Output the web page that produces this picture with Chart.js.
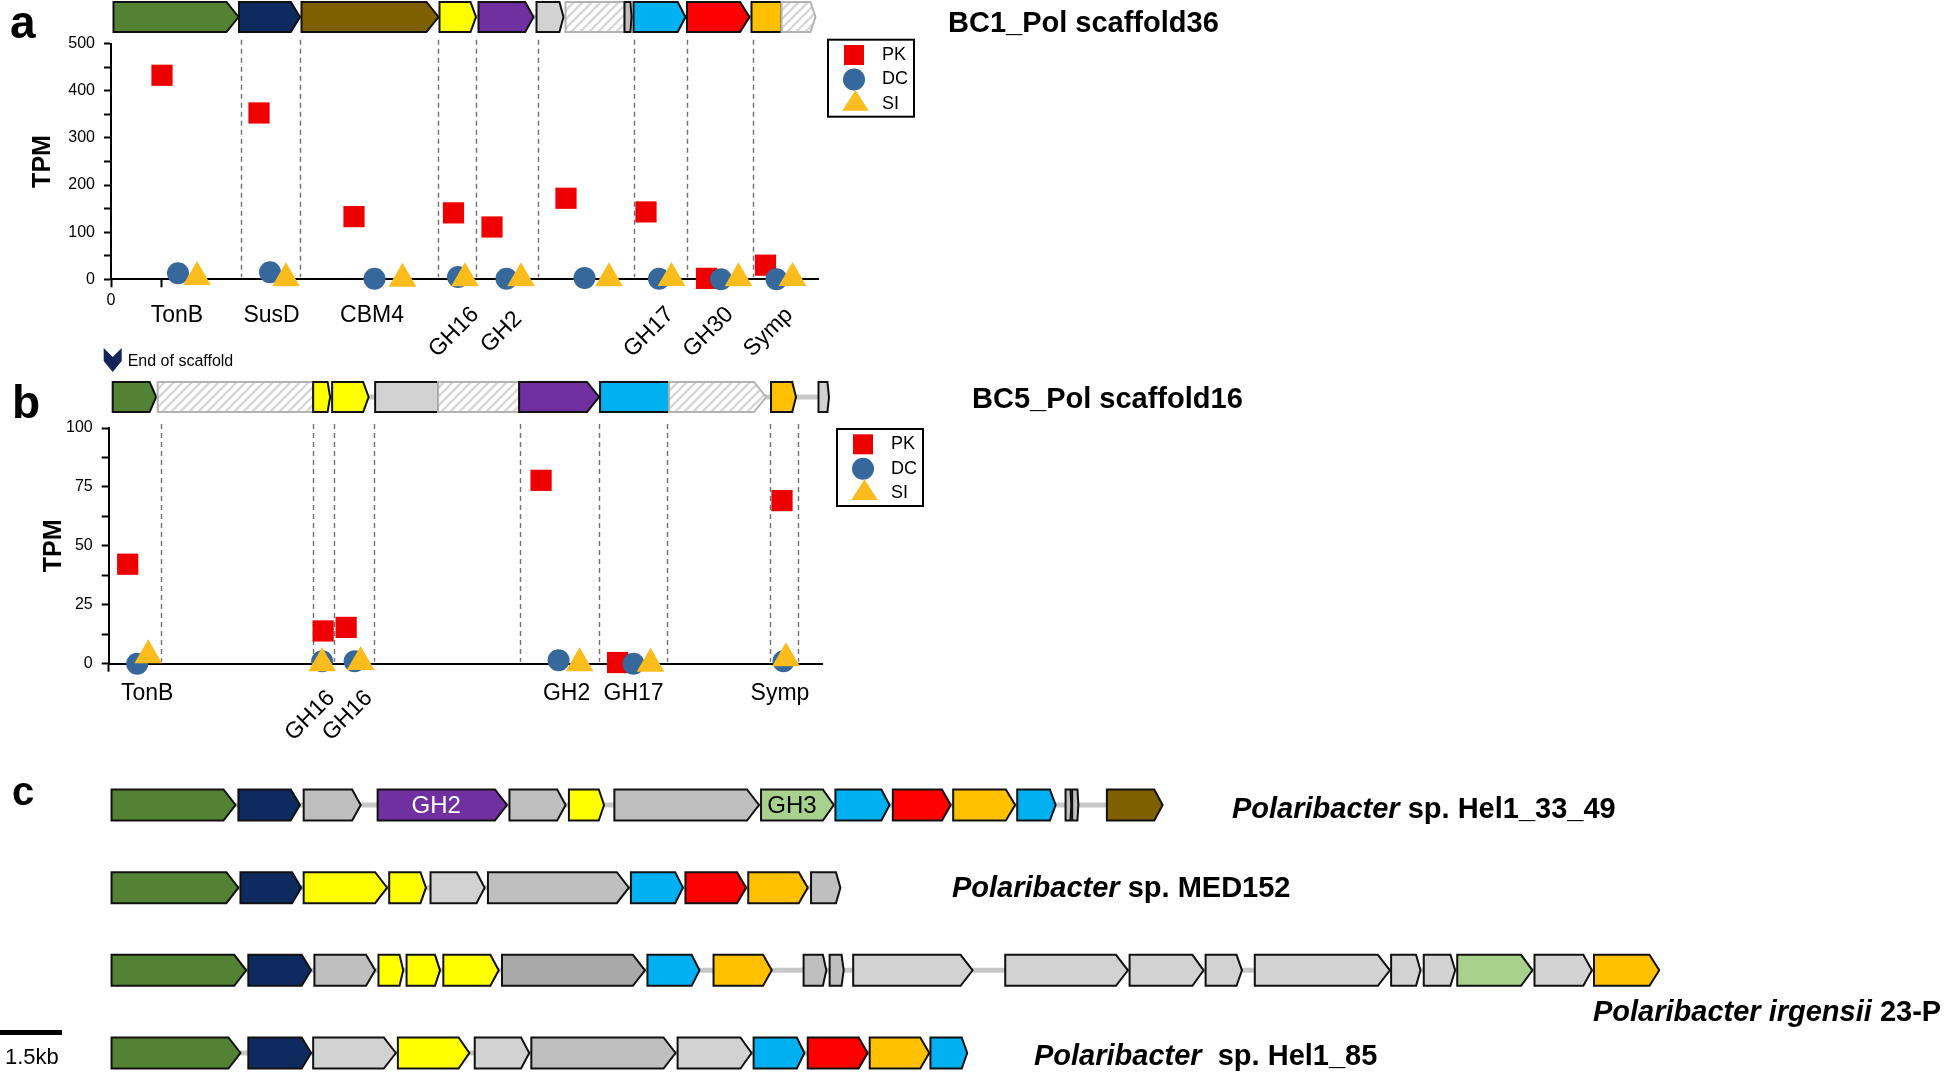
<!DOCTYPE html>
<html lang="en">
<head>
<meta charset="utf-8">
<title>Polaribacter PUL expression</title>
<script src="https://cdn.jsdelivr.net/npm/chart.js@4.4.1/dist/chart.umd.min.js"></script>
<style>
    html, body { margin: 0; padding: 0; background: #ffffff; }
    body { position: relative; width: 1946px; height: 1075px; overflow: hidden; }
    canvas { position: absolute; left: 0; }
    #pulA { top: 0; }
    #pulB { top: 340px; }
    #pulC { top: 740px; }
</style>
</head>
<body>
<canvas id="pulA" width="1946" height="372"></canvas>
<canvas id="pulB" width="1946" height="410"></canvas>
<canvas id="pulC" width="1946" height="335"></canvas>
<script>
if (document.readyState == 'loading') {
    document.addEventListener('DOMContentLoaded', ready);
} else {
    ready();
}

const FONT = '"Liberation Sans", Arial, Helvetica, sans-serif';
const seriesNames = ['PK', 'DC', 'SI'];

// ---- panel a : BC1_Pol scaffold36 (x in map units) ----
const titleA = 'BC1_Pol scaffold36';
const genesA = ['TonB', 'SusD', 'CBM4', 'GH16', 'GH2', '', 'GH17', 'GH30', 'Symp'];
const genePosA = [1.32, 3.21, 5.22, 6.86, 7.81, 9.5, 10.76, 11.95, 13.15];
const pkXA = [1.02, 2.96, 4.86, 6.85, 7.62, 9.10, 10.70, 11.91, 13.09];
const pkA = [433, 353, 133, 141, 111, 172, 143, 2, 30];
const dcXA = [1.34, 3.18, 5.27, 6.94, 7.91, 9.47, 10.96, 12.20, 13.31];
const dcA = [13, 15, 1, 5, 1, 3, 1, 0, 0];
const siXA = [1.72, 3.50, 5.83, 7.08, 8.20, 9.96, 11.21, 12.55, 13.63];
const siA = [5, 2, 1, 2, 2, 2, 3, 2, 3];
const yTicksA = { max: 500, step: 50, label: 100 };
const xMaxA = 14.14;
const mapStartA = [0.05, 2.56, 3.81, 6.57, 7.35, 8.51, 9.09, 10.27, 10.45, 11.52, 12.81, 13.41];
const mapEndA = [2.55, 3.78, 6.55, 7.30, 8.45, 9.05, 10.27, 10.41, 11.49, 12.77, 13.41, 14.09];
const mapTypeA = ['tonb', 'susd', 'cbm', 'gh16', 'gh2', 'hypoA', 'frag', 'hypoB', 'gh17', 'gh30', 'symp', 'frag'];
const cutsA = [2.60, 3.78, 6.55, 7.31, 8.53, 10.45, 11.53, 12.83];

// ---- panel b : BC5_Pol scaffold16 ----
const titleB = 'BC5_Pol scaffold16';
const genesB = ['TonB', 'GH16', 'GH16', 'GH2', 'GH17', 'Symp'];
const genePosB = [0.77, 4.03, 4.78, 9.16, 10.50, 13.43];
const pkXB = [0.38, 4.29, 4.75, 8.65, 10.18, 13.47];
const pkB = [42.2, 13.9, 15.4, 77.8, 0.5, 69.2];
const dcXB = [0.57, 4.27, 4.92, 9.00, 10.50, 13.50];
const dcB = [0, 1, 1, 1.5, 0, 1];
const siXB = [0.79, 4.27, 5.04, 9.42, 10.84, 13.55];
const siB = [3.6, 0.2, 0.7, 0.2, 0, 2.3];
const yTicksB = { max: 100, step: 12.5, label: 25 };
const xMaxB = 14.27;
const mapStartB = [0.08, 0.98, 4.09, 4.47, 5.33, 6.59, 8.21, 9.83, 11.21, 13.25, 14.20];
const mapEndB = [0.95, 4.09, 4.43, 5.20, 6.59, 8.21, 9.81, 11.21, 13.15, 13.75, 14.41];
const mapTypeB = ['tonb', 'frag', 'gh16', 'gh16', 'hypoA', 'frag', 'gh2', 'gh17', 'frag', 'symp', 'hypoA'];
const cutsB = [1.04, 4.09, 4.50, 5.30, 8.22, 9.80, 11.16, 13.23, 13.79];

// ---- panel c : related Polaribacter PULs (kb) ----
const genomeIds = ['Hel1_33_49', 'MED152', 'irgensii', 'Hel1_85'];
const genomeItalic = ['Polaribacter', 'Polaribacter', 'Polaribacter irgensii', 'Polaribacter'];
const genomeRest = [' sp. Hel1_33_49', ' sp. MED152', ' 23-P', '  sp. Hel1_85'];
const scaleBarKb = 1.5;
const kbMin = -2.70;
const kbMax = 44.40;

const hel3349Start = [0, 3.07, 4.65, 6.44, 9.63, 11.07, 12.17, 15.72, 17.52, 18.91, 20.37, 21.92, 23.09, 23.25, 24.09];
const hel3349End = [3.00, 4.56, 6.03, 9.57, 10.99, 11.92, 15.67, 17.48, 18.83, 20.31, 21.87, 22.85, 23.23, 23.40, 25.44];
const hel3349Type = ['tonb', 'susd', 'hypoB', 'gh2', 'hypoB', 'gh16', 'hypoB', 'gh3', 'gh17', 'gh30', 'symp', 'gh17', 'hypoB', 'hypoB', 'cbm'];
const hel3349Tag = ['', '', '', 'GH2', '', '', '', 'GH3', '', '', '', '', '', '', ''];

const med152Start = [0, 3.12, 4.65, 6.72, 7.72, 9.11, 12.57, 13.89, 15.41, 16.93];
const med152End = [3.07, 4.59, 6.67, 7.61, 9.03, 12.52, 13.83, 15.36, 16.85, 17.64];
const med152Type = ['tonb', 'susd', 'gh16', 'gh16', 'hypoA', 'hypoB', 'gh17', 'gh30', 'symp', 'hypoB'];

const irgStart = [0, 3.31, 4.91, 6.46, 7.14, 8.03, 9.45, 12.97, 14.57, 16.75, 17.38, 17.95, 21.63, 24.64, 26.48, 27.67, 30.97, 31.76, 32.57, 34.44, 35.88];
const irgEnd = [3.26, 4.83, 6.38, 7.06, 7.95, 9.37, 12.91, 14.23, 15.98, 17.30, 17.72, 20.84, 24.60, 26.43, 27.36, 30.94, 31.68, 32.52, 34.39, 35.83, 37.46];
const irgType = ['tonb', 'susd', 'hypoB', 'gh16', 'gh16', 'gh16', 'hypoC', 'gh17', 'symp', 'hypoB', 'hypoB', 'hypoA', 'hypoA', 'hypoA', 'hypoA', 'hypoA', 'hypoA', 'hypoA', 'gh3', 'hypoA', 'symp'];

const hel85Start = [0, 3.31, 4.88, 6.93, 8.79, 10.16, 13.70, 15.54, 16.85, 18.35, 19.82];
const hel85End = [3.12, 4.83, 6.88, 8.66, 10.11, 13.65, 15.49, 16.77, 18.30, 19.79, 20.71];
const hel85Type = ['tonb', 'susd', 'hypoA', 'gh16', 'hypoA', 'hypoB', 'hypoA', 'gh17', 'gh30', 'symp', 'gh17'];

const geneColors = {
    tonb: '#548235', susd: '#0f2a5f', cbm: '#7f6000', gh16: '#ffff00', gh2: '#7030a0',
    gh17: '#00b0f0', gh30: '#ff0000', symp: '#ffc000', gh3: '#a9d18e',
    hypoA: '#d2d2d2', hypoB: '#bfbfbf', hypoC: '#a9a9a9'
};

function ready() {
    Chart.defaults.font.family = FONT;
    Chart.defaults.color = '#000';

    createExpressionChart('pulA', {
        datasets: scatterDatasets(pkXA, pkA, dcXA, dcA, siXA, siA),
        yTicks: yTicksA, xMax: xMaxA, xTicks: [0, 1], zeroLabel: true,
        frame: { left: 111, top: 43.7, right: 818, xAxisH: 92.7, titlePad: 28.6 },
        decor: {
            letter: 'a', letterAt: [10, 38], letterSize: 46,
            title: titleA, titleAt: [948, 24],
            starts: mapStartA, ends: mapEndA, types: mapTypeA, cuts: cutsA, trackGap: 26.7,
            labels: genesA, labelPos: genePosA, tilted: [3, 4, 6, 7, 8], flatDrop: 36, tiltDrop: 53,
            legendAt: [10, -4], scaffoldEnd: false
        }
    });

    createExpressionChart('pulB', {
        datasets: scatterDatasets(pkXB, pkB, dcXB, dcB, siXB, siB),
        yTicks: yTicksB, xMax: xMaxB, xTicks: [0], zeroLabel: false,
        frame: { left: 108.7, top: 88, right: 822, xAxisH: 86.3, titlePad: 39.2 },
        decor: {
            letter: 'b', letterAt: [12, 78], letterSize: 46,
            title: titleB, titleAt: [972, 60],
            starts: mapStartB, ends: mapEndB, types: mapTypeB, cuts: cutsB, trackGap: 31,
            labels: genesB, labelPos: genePosB, tilted: [1, 2], flatDrop: 29.5, tiltDrop: 52,
            legendAt: [15, 1], scaffoldEnd: true
        }
    });

    createComparisonChart();
}

function scatterDatasets(pkX, pk, dcX, dc, siX, si) {
    const pts = (xs, ys) => xs.map((x, i) => ({ x: x, y: ys[i] }));
    const base = { showLine: false, borderWidth: 0, clip: false, pointBorderWidth: 0 };
    return [
        { ...base, label: seriesNames[0], data: pts(pkX, pk), pointStyle: 'rect', pointRadius: 15,
          backgroundColor: '#ee0000', borderColor: '#ee0000', order: 3 },
        { ...base, label: seriesNames[1], data: pts(dcX, dc), pointStyle: 'circle', pointRadius: 11,
          backgroundColor: '#36689b', borderColor: '#36689b', order: 2 },
        { ...base, label: seriesNames[2], data: pts(siX, si), pointStyle: 'triangle', pointRadius: 16,
          backgroundColor: '#fbbd1e', borderColor: '#fbbd1e', order: 1 }
    ];
}

function makeHatch(ctx) {
    const tile = document.createElement('canvas');
    tile.width = 9;
    tile.height = 9;
    const t = tile.getContext('2d');
    t.fillStyle = '#ffffff';
    t.fillRect(0, 0, 9, 9);
    t.strokeStyle = '#d8d8d8';
    t.lineWidth = 2.5;
    t.beginPath();
    t.moveTo(-1, 10); t.lineTo(10, -1);
    t.moveTo(-1, 1); t.lineTo(1, -1);
    t.moveTo(8, 10); t.lineTo(10, 8);
    t.stroke();
    return ctx.createPattern(tile, 'repeat');
}

// no arrow head when the next segment continues the same gene
function geneTip(i, starts, ends, w) {
    if (i < starts.length - 1 && ends[i] === starts[i + 1]) return 0;
    return Math.min(12, w * 0.15);
}

function drawGene(ctx, x0, x1, yc, h, type, tip, hatch, tag) {
    const top = yc - h / 2;
    const bot = yc + h / 2;
    ctx.beginPath();
    ctx.moveTo(x0, top);
    ctx.lineTo(x1 - tip, top);
    ctx.lineTo(x1, yc);
    ctx.lineTo(x1 - tip, bot);
    ctx.lineTo(x0, bot);
    ctx.closePath();
    ctx.fillStyle = type === 'frag' ? hatch : geneColors[type];
    ctx.fill();
    ctx.lineWidth = 2;
    ctx.strokeStyle = type === 'frag' ? '#b3b3b3' : '#111111';
    ctx.stroke();
    if (tag) {
        ctx.font = `24px ${FONT}`;
        ctx.fillStyle = type === 'gh2' ? '#ffffff' : '#000000';
        ctx.textAlign = 'center';
        ctx.textBaseline = 'middle';
        ctx.fillText(tag, x0 + (x1 - tip - x0) / 2, yc + 1);
    }
}

function drawBackbone(ctx, x0, x1, yc) {
    ctx.strokeStyle = '#c8c8c8';
    ctx.lineWidth = 5;
    ctx.beginPath();
    ctx.moveTo(x0, yc);
    ctx.lineTo(x1, yc);
    ctx.stroke();
}

function drawMarker(ctx, style, x, y) {
    ctx.beginPath();
    if (style === 'rect') {
        ctx.rect(x - 10, y - 10, 20, 20);
    } else if (style === 'circle') {
        ctx.arc(x, y, 11, 0, Math.PI * 2);
    } else {
        ctx.moveTo(x + 1.5, y - 14);
        ctx.lineTo(x + 14.8, y + 6.7);
        ctx.lineTo(x - 11.8, y + 6.7);
        ctx.closePath();
    }
    ctx.fill();
}

function panelDecor(cfg) {
    return {
        id: 'panelDecor',
        beforeDatasetsDraw(chart) {
            const { ctx, chartArea: { top, bottom }, scales: { x } } = chart;
            ctx.save();

            // dashed gene boundaries
            ctx.setLineDash([5, 4]);
            ctx.strokeStyle = '#6f6f6f';
            ctx.lineWidth = 1.4;
            cfg.cuts.forEach(c => {
                const px = Math.round(x.getPixelForValue(c)) + 0.5;
                ctx.beginPath();
                ctx.moveTo(px, top - 4);
                ctx.lineTo(px, bottom - 2);
                ctx.stroke();
            });
            ctx.setLineDash([]);

            // gene track above the plot
            const yc = top - cfg.trackGap;
            const hatch = makeHatch(ctx);
            const px = v => x.getPixelForValue(v);
            drawBackbone(ctx, px(cfg.starts[0]), px(cfg.ends[cfg.ends.length - 1]), yc);
            cfg.starts.forEach((s, i) => {
                const x0 = px(s);
                const x1 = px(cfg.ends[i]);
                drawGene(ctx, x0, x1, yc, 30, cfg.types[i], geneTip(i, cfg.starts, cfg.ends, x1 - x0), hatch, '');
            });
            ctx.restore();
        },
        afterDraw(chart) {
            const { ctx, chartArea: { top, bottom, right }, scales: { x } } = chart;
            ctx.save();

            ctx.fillStyle = '#000';
            ctx.textAlign = 'left';
            ctx.textBaseline = 'alphabetic';
            ctx.font = `bold ${cfg.letterSize}px ${FONT}`;
            ctx.fillText(cfg.letter, cfg.letterAt[0], cfg.letterAt[1]);

            ctx.textBaseline = 'middle';
            ctx.font = `bold 29px ${FONT}`;
            ctx.fillText(cfg.title, cfg.titleAt[0], cfg.titleAt[1]);

            if (cfg.scaffoldEnd) {
                const cx = x.getPixelForValue(cfg.starts[0]);
                ctx.fillStyle = '#13245a';
                ctx.beginPath();
                ctx.moveTo(cx - 9, 8);
                ctx.lineTo(cx, 17);
                ctx.lineTo(cx + 9, 8);
                ctx.lineTo(cx + 9, 21);
                ctx.lineTo(cx, 32);
                ctx.lineTo(cx - 9, 21);
                ctx.closePath();
                ctx.fill();
                ctx.fillStyle = '#000';
                ctx.font = `16px ${FONT}`;
                ctx.fillText('End of scaffold', cx + 15, 22);
            }

            // gene names under the axis
            ctx.font = `23px ${FONT}`;
            ctx.textAlign = 'center';
            cfg.labels.forEach((name, i) => {
                if (!name) return;
                const px = x.getPixelForValue(cfg.labelPos[i]);
                if (cfg.tilted.includes(i)) {
                    ctx.save();
                    ctx.translate(px, bottom + cfg.tiltDrop);
                    ctx.rotate(-Math.PI / 4);
                    ctx.fillText(name, 0, 0);
                    ctx.restore();
                } else {
                    ctx.fillText(name, px, bottom + cfg.flatDrop);
                }
            });

            // boxed legend
            const left = right + cfg.legendAt[0];
            const ltop = top + cfg.legendAt[1];
            ctx.lineWidth = 2;
            ctx.strokeStyle = '#000';
            ctx.strokeRect(left, ltop, 86, 77);
            chart.data.datasets.forEach((ds, i) => {
                const cy = ltop + 15.3 + i * 24.5;
                ctx.fillStyle = ds.backgroundColor;
                drawMarker(ctx, ds.pointStyle, left + 26, cy);
                ctx.fillStyle = '#000';
                ctx.font = `18px ${FONT}`;
                ctx.textAlign = 'left';
                ctx.fillText(ds.label, left + 54, cy);
            });
            ctx.restore();
        }
    };
}

function createExpressionChart(canvasId, setup) {
    const canvas = document.getElementById(canvasId);
    const { frame, yTicks } = setup;

    const config = {
        type: 'scatter',
        data: { datasets: setup.datasets },
        options: {
            responsive: false,
            maintainAspectRatio: false,
            animation: false,
            events: [],
            devicePixelRatio: 1,
            layout: {
                padding: { left: 0, top: frame.top, right: canvas.width - frame.right, bottom: 0 }
            },
            plugins: {
                legend: { display: false },
                tooltip: { enabled: false }
            },
            scales: {
                x: {
                    type: 'linear',
                    min: 0,
                    max: setup.xMax,
                    afterFit: scale => { scale.height = frame.xAxisH; },
                    afterBuildTicks: scale => { scale.ticks = setup.xTicks.map(v => ({ value: v })); },
                    ticks: {
                        autoSkip: false,
                        maxRotation: 0,
                        padding: 4,
                        font: { size: 16 },
                        color: '#000',
                        callback: v => (v === 0 && setup.zeroLabel ? '0' : '')
                    },
                    grid: { drawOnChartArea: false, drawTicks: true, tickLength: 8, tickColor: '#000', tickWidth: 2 },
                    border: { color: '#000', width: 2 }
                },
                y: {
                    min: 0,
                    max: yTicks.max,
                    afterFit: scale => { scale.width = frame.left; },
                    ticks: {
                        stepSize: yTicks.step,
                        autoSkip: false,
                        padding: 9,
                        font: { size: 16 },
                        color: '#000',
                        callback: v => (v % yTicks.label === 0 ? v : '')
                    },
                    grid: { drawOnChartArea: false, drawTicks: true, tickLength: 7, tickColor: '#000', tickWidth: 2 },
                    border: { color: '#000', width: 2 },
                    title: {
                        display: true,
                        text: 'TPM',
                        color: '#000',
                        font: { size: 25, weight: 'bold' },
                        padding: { top: frame.titlePad, bottom: 0 }
                    }
                }
            }
        },
        plugins: [panelDecor(setup.decor)]
    };

    return new Chart(canvas, config);
}

function createComparisonChart() {
    const canvas = document.getElementById('pulC');

    const rows = [
        { start: hel3349Start, end: hel3349End, type: hel3349Type, tag: hel3349Tag },
        { start: med152Start, end: med152End, type: med152Type, tag: [] },
        { start: irgStart, end: irgEnd, type: irgType, tag: [] },
        { start: hel85Start, end: hel85End, type: hel85Type, tag: [] }
    ];

    // one floating bar per gene, drawn as an arrow by the plugin below
    const bars = [];
    rows.forEach((row, r) => {
        row.start.forEach((s, i) => bars.push({ x: [s, row.end[i]], y: genomeIds[r] }));
    });

    const labelAt = [[1232, 70], [952, 149], [1593, 273], [1034, 317]];

    const geneMapPlugin = {
        id: 'geneMapPlugin',
        afterDatasetsDraw(chart) {
            const { ctx, scales: { x } } = chart;
            const meta = chart.getDatasetMeta(0);
            const hatch = makeHatch(ctx);
            ctx.save();
            let k = 0;
            rows.forEach((row, r) => {
                const els = meta.data.slice(k, k + row.start.length);
                k += row.start.length;
                drawBackbone(ctx, els[0].base, els[els.length - 1].x, els[0].y);
                els.forEach((el, i) => {
                    const tip = geneTip(i, row.start, row.end, el.x - el.base);
                    drawGene(ctx, el.base, el.x, el.y, el.height, row.type[i], tip, hatch, row.tag[i] || '');
                });

                // genome name
                ctx.fillStyle = '#000';
                ctx.textAlign = 'left';
                ctx.textBaseline = 'middle';
                ctx.font = `italic bold 29px ${FONT}`;
                ctx.fillText(genomeItalic[r], labelAt[r][0], labelAt[r][1]);
                const w = ctx.measureText(genomeItalic[r]).width;
                ctx.font = `bold 29px ${FONT}`;
                ctx.fillText(genomeRest[r], labelAt[r][0] + w, labelAt[r][1]);
            });

            // scale bar
            const x0 = x.getPixelForValue(x.min);
            const x1 = x.getPixelForValue(x.min + scaleBarKb);
            ctx.fillStyle = '#000';
            ctx.fillRect(x0, 290, x1 - x0, 5);
            ctx.font = `22px ${FONT}`;
            ctx.fillText(scaleBarKb + 'kb', 5, 318);

            ctx.font = `bold 40px ${FONT}`;
            ctx.textBaseline = 'alphabetic';
            ctx.fillText('c', 12, 65);
            ctx.restore();
        }
    };

    const config = {
        type: 'bar',
        data: {
            labels: genomeIds,
            datasets: [{
                label: 'genes',
                data: bars,
                barThickness: 31,
                backgroundColor: 'rgba(0,0,0,0)',
                borderWidth: 0,
                clip: false
            }]
        },
        options: {
            indexAxis: 'y',
            responsive: false,
            maintainAspectRatio: false,
            animation: false,
            events: [],
            devicePixelRatio: 1,
            layout: { padding: { left: 0, right: 0, top: 65, bottom: 22 } },
            plugins: {
                legend: { display: false },
                tooltip: { enabled: false }
            },
            scales: {
                x: { type: 'linear', min: kbMin, max: kbMax, display: false },
                y: { type: 'category', labels: genomeIds, offset: false, display: false }
            }
        },
        plugins: [geneMapPlugin]
    };

    return new Chart(canvas, config);
}
</script>
</body>
</html>
